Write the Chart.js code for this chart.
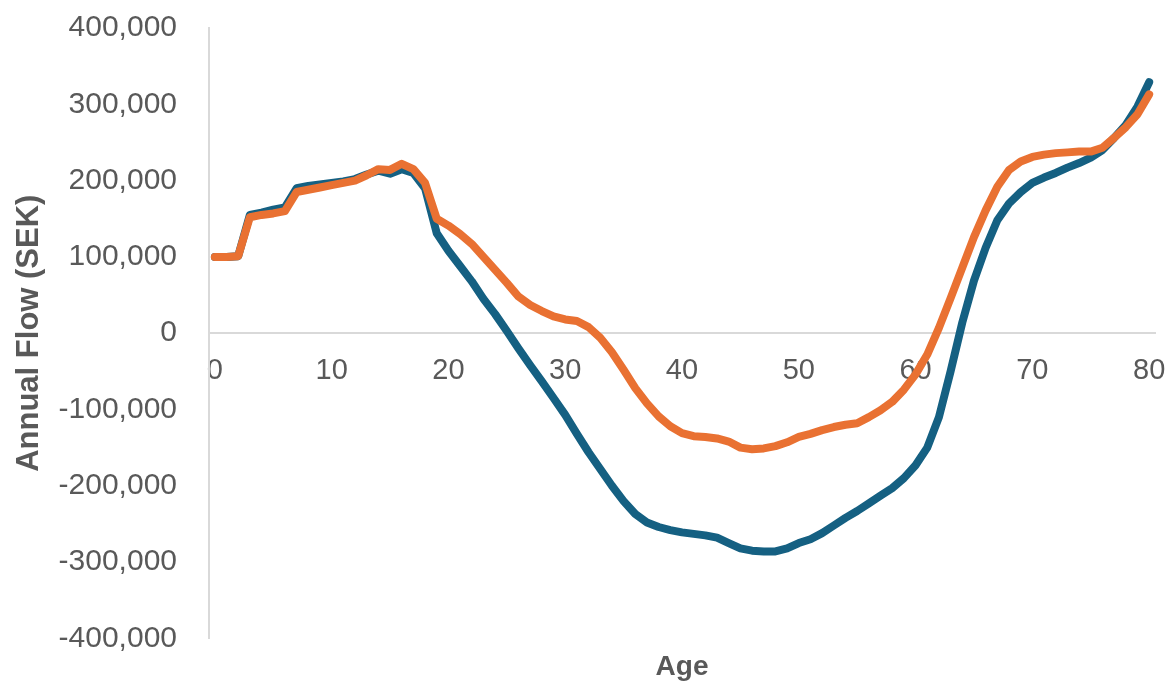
<!DOCTYPE html>
<html>
<head>
    <meta charset="UTF-8">
    <title>Annual Flow by Age</title>
    <script src="https://cdn.jsdelivr.net/npm/chart.js"></script>
    <style>
        body { margin: 0; background: #fff; }
        #wrap { width: 1169px; height: 684px; }
    </style>
</head>
<body>
    <div id="wrap"><canvas id="flowChart"></canvas></div>
    <script>
        // ages 0..80
        var ages = [];
        for (var a = 0; a <= 80; a++) ages.push(a);

        var blueFlow = [
            100000, 100000, 101000, 155000, 158000, 162000, 165000, 190000, 193000, 195000,
            197000, 199000, 202000, 208000, 213000, 209000, 215000, 210000, 190000, 131000,
            108000, 88000, 68000, 45000, 25000, 3000, -20000, -42000, -63000, -85000,
            -107000, -132000, -156000, -178000, -200000, -220000, -237000, -248000, -254000, -258000,
            -261000, -263000, -265000, -268000, -275000, -282000, -285000, -286000, -286000, -282000,
            -275000, -270000, -262000, -252000, -242000, -233000, -223000, -213000, -203000, -190000,
            -173000, -150000, -110000, -50000, 14000, 69000, 112000, 148000, 170000, 185000,
            197000, 204000, 210000, 217000, 223000, 230000, 240000, 256000, 273000, 297000,
            329000
        ];

        var orangeFlow = [
            100000, 100000, 101000, 152000, 155000, 157000, 160000, 185000, 188000, 191000,
            194000, 197000, 200000, 207000, 215000, 214000, 222000, 215000, 197000, 150000,
            141000, 130000, 117000, 100000, 83000, 66000, 48000, 37000, 29000, 22000,
            18000, 16000, 8000, -6000, -25000, -48000, -72000, -92000, -109000, -122000,
            -131000, -135000, -136000, -138000, -142000, -150000, -152000, -151000, -148000, -143000,
            -136000, -132000, -127000, -123000, -120000, -118000, -110000, -101000, -90000, -74000,
            -54000, -28000, 7000, 46000, 86000, 126000, 161000, 192000, 214000, 225000,
            231000, 234000, 236000, 237000, 238000, 238000, 243000, 256000, 270000, 287000,
            313000
        ];

        var yTicks = [-400000, -300000, -200000, -100000, 0, 100000, 200000, 300000, 400000];

        var axisGray = '#d9d9d9';
        var textGray = '#595959';

        var ctx = document.getElementById('flowChart').getContext('2d');
        var flowChart = new Chart(ctx, {
            type: 'line',
            data: {
                labels: ages,
                datasets: [{
                    label: 'Series 2',
                    data: orangeFlow,
                    borderColor: '#E97132',
                    borderWidth: 8,
                    borderJoinStyle: 'round',
                    borderCapStyle: 'round',
                    pointRadius: 0,
                    fill: false,
                    order: 0
                }, {
                    label: 'Series 1',
                    data: blueFlow,
                    borderColor: '#156082',
                    borderWidth: 8,
                    borderJoinStyle: 'round',
                    borderCapStyle: 'round',
                    pointRadius: 0,
                    fill: false,
                    order: 1
                }]
            },
            options: {
                responsive: true,
                maintainAspectRatio: false,
                animation: false,
                layout: { padding: { top: 28, right: 14, left: 0, bottom: 0 } },
                plugins: {
                    legend: { display: false },
                    tooltip: { enabled: false },
                    title: {
                        display: true,
                        fullSize: false,
                        position: 'bottom',
                        text: 'Age',
                        color: textGray,
                        font: { family: 'Liberation Sans, Arial, sans-serif', size: 28, weight: 'bold' },
                        padding: { top: 12, bottom: 0 }
                    }
                },
                scales: {
                    x: {
                        type: 'category',
                        offset: true,
                        position: { y: 0 },
                        afterFit: function (scale) {
                            scale.paddingLeft = 0;
                            scale.paddingRight = 0;
                        },
                        grid: { display: false, drawTicks: false },
                        border: { display: true, color: axisGray, width: 2 },
                        ticks: {
                            autoSkip: false,
                            maxRotation: 0,
                            color: textGray,
                            padding: 20,
                            font: { family: 'Liberation Sans, Arial, sans-serif', size: 29 },
                            callback: function (val, idx) {
                                return ages[idx] % 10 === 0 ? String(ages[idx]) : '';
                            }
                        }
                    },
                    y: {
                        min: -400000,
                        max: 400000,
                        afterBuildTicks: function (scale) {
                            scale.ticks = yTicks.map(function (v) { return { value: v }; });
                        },
                        afterFit: function (scale) {
                            scale.width = 209;
                            scale.paddingTop = 0;
                            scale.paddingBottom = 0;
                        },
                        grid: { display: false, drawTicks: false },
                        border: { display: true, color: axisGray, width: 2 },
                        ticks: {
                            color: textGray,
                            padding: 32,
                            font: { family: 'Liberation Sans, Arial, sans-serif', size: 30 },
                            callback: function (v) { return v.toLocaleString('en-US'); }
                        },
                        title: {
                            display: true,
                            text: 'Annual Flow (SEK)',
                            color: textGray,
                            font: { family: 'Liberation Sans, Arial, sans-serif', size: 31, weight: 'bold' },
                            padding: { top: 11, bottom: 0 }
                        }
                    }
                }
            }
        });
    </script>
</body>
</html>
